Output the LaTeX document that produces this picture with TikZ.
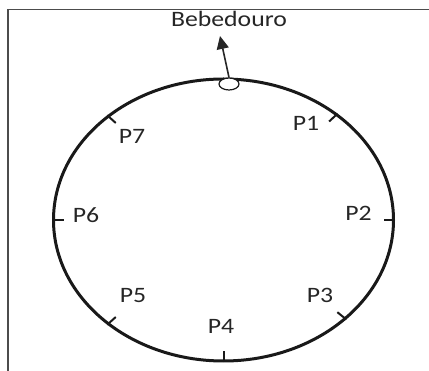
\documentclass[tikz,border=0pt]{standalone}
\usepackage{fontspec}
\setmainfont{Carlito}[FakeStretch=1.17]
\usetikzlibrary{shapes.geometric,arrows.meta,calc}
\tikzset{
  frameline/.style={draw=black!70,line width=1.3pt},
  track/.style={ellipse,draw=black!90,line width=3pt,inner sep=0pt,outer sep=0pt,
                minimum width=340pt,minimum height=282pt},
  trough/.style={ellipse,draw=black!90,fill=white,line width=1.2pt,inner sep=0pt,
                 minimum width=20pt,minimum height=12pt},
  tickmark/.style={draw=black!90,line width=2pt},
  plabel/.style={text=black!85,font=\fontsize{22}{26}\selectfont,inner sep=0pt},
  pointer/.style={draw=black!85,line width=1.6pt,-{Triangle[length=13pt,width=12pt]}}
}
\begin{document}
\begin{tikzpicture}[x=1pt,y=-1pt]
\useasboundingbox (0,0) rectangle (429,371);
% open frame: top and left edges only
\draw[frameline] (8,371) -- (8,9.5) -- (429,9.5);

% oval track with the drinking point at the top
\node[track] (e) at (223.5,220) {};
\node[trough] (drink) at (229,84) {};
\coordinate (tip) at (220,36);
\draw[pointer] (drink.north) -- (tip);
\node[plabel] (beb) at (229,19) {Bebedouro};

% stations around the track
\foreach \ang in {43.8,0,-39.4,270,222,180,138.8}{
  \draw[tickmark] ($(e.\ang)!-1.5pt!(e.center)$) -- ($(e.\ang)!10pt!(e.center)$);
}
\node[plabel] (p1) at (306,123.5) {P1};
\node[plabel] (p2) at (358.5,213.5) {P2};
\node[plabel] (p3) at (320,295) {P3};
\node[plabel] (p4) at (221,326.5) {P4};
\node[plabel] (p5) at (133,296) {P5};
\node[plabel] (p6) at (86,215) {P6};
\node[plabel] (p7) at (132,136) {P7};
\end{tikzpicture}
\end{document}
